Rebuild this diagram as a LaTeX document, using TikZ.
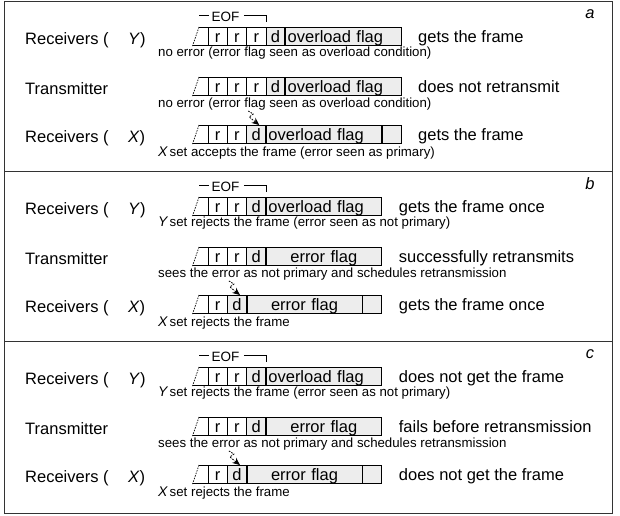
\documentclass[tikz,border=0pt]{standalone}
\usepackage{fontspec}
\setmainfont{Liberation Sans}
\usetikzlibrary{positioning,calc,arrows.meta}

\definecolor{flaggray}{gray}{0.93}
\newcommand{\bigtxt}{\fontsize{16.5}{19}\selectfont}
\newcommand{\smalltxt}{\fontsize{13.25}{15}\selectfont}
\newcommand{\setltr}[1]{{\fontsize{14}{14}\selectfont\itshape #1}\,}

\tikzset{
	wire/.style={line width=0.8pt},
	bitbox/.style={draw, line width=0.8pt, minimum width=19.3pt, minimum height=18pt, inner sep=0pt, outer sep=0pt, text height=13pt, text depth=1pt, font=\bigtxt},
	rbit/.style={bitbox, fill=white},
	dbit/.style={bitbox, fill=flaggray},
	endbox/.style={bitbox, fill=flaggray},
	flagbox/.style={draw, line width=0.8pt, fill=flaggray, minimum height=18pt, inner xsep=2.5pt, inner ysep=0pt, outer sep=0pt, text width=110.8pt, text height=13pt, text depth=1pt, font=\bigtxt},
	ovlflag/.style={flagbox, align=left},
	errflag/.style={flagbox, align=center},
	slant/.style={line width=0.7pt, dash pattern=on 1.5pt off 1.2pt},
	hit/.style={line width=0.8pt, dash pattern=on 1.6pt off 1.2pt, -{Stealth[length=7.5pt,width=6.5pt]}},
	bar/.style={line width=1.8pt},
	frame/.style={line width=1pt, black!80},
	lbl/.style={font=\bigtxt, inner sep=0pt, anchor=base west},
	note/.style={font=\smalltxt, inner sep=0pt, anchor=base west},
	tag/.style={font=\bigtxt\itshape, inner sep=0pt},
	eoftxt/.style={font=\fontsize{13.5}{15}\selectfont, inner sep=0pt}
}

\begin{document}
\begin{tikzpicture}[x=1pt,y=-1pt]
		\useasboundingbox (0,0) rectangle (620,515);
		
		%frame
		\draw[frame] (4,1) rectangle (612,513);
		\draw[frame] (4,171) -- (612,171);
		\draw[frame] (4,341) -- (612,341);
		
		%%%%%% panel a
		\node[tag] (alet) at (590,14) {a};
		
		%receivers Y
		\node[rbit] (ay1) at (217.65,36) {r};
		\node[rbit, right = 0pt of ay1] (ay2) {r};
		\node[rbit, right = 0pt of ay2] (ay3) {r};
		\node[dbit, right = 0pt of ay3] (ay4) {d};
		\node[ovlflag, right = 0pt of ay4] (ayf) {overload flag};
		\draw[bar] (ayf.north west) -- (ayf.south west);
		\draw[wire] ($(ay1.north west)+(-9,0)$) -- (ay1.north west) (ay1.south west) -- ++(-15,0);
		\draw[slant] ($(ay1.north west)+(-9,0)$) -- ++(-6.5,19);
		\node[lbl] (ayl) at (25,44) {Receivers (};
		\node[lbl] (ayv) at (128,44) {\textit{Y})};
		\node[lbl, base right = 17pt of ayf] (ayt) {gets the frame};
		\node[note] (ayn) at (158,56.5) {no error (error flag seen as overload condition)};
		
		%eof
		\node[eoftxt] (aeof) at (225.5,17) {EOF};
		\coordinate (aeofa) at (199,15.5);
		\coordinate (aeofb) at (ay3.north east |- aeofa);
		\draw[wire] (aeofa) -- ++(10,0);
		\draw[wire] ($(aeofb)+(-22,0)$) -- (aeofb) -- ++(0,6);
		
		%transmitter
		\node[rbit] (at1) at (217.65,86) {r};
		\node[rbit, right = 0pt of at1] (at2) {r};
		\node[rbit, right = 0pt of at2] (at3) {r};
		\node[dbit, right = 0pt of at3] (at4) {d};
		\node[ovlflag, right = 0pt of at4] (atf) {overload flag};
		\draw[bar] (atf.north west) -- (atf.south west);
		\draw[wire] ($(at1.north west)+(-9,0)$) -- (at1.north west) (at1.south west) -- ++(-15,0);
		\draw[slant] ($(at1.north west)+(-9,0)$) -- ++(-6.5,19);
		\node[lbl] (atl) at (25,94) {Transmitter};
		\node[lbl, base right = 17pt of atf] (att) {does not retransmit};
		\node[note] (atn) at (158,107) {no error (error flag seen as overload condition)};
		
		%receivers X
		\node[rbit] (ax1) at (217.65,134) {r};
		\node[rbit, right = 0pt of ax1] (ax2) {r};
		\node[dbit, right = 0pt of ax2] (ax3) {d};
		\node[ovlflag, right = 0pt of ax3] (axf) {overload flag};
		\node[endbox, right = 0pt of axf] (axe) {};
		\draw[bar] (axf.north west) -- (axf.south west);
		\draw[bar] (axf.north east) -- (axf.south east);
		\draw[wire] ($(ax1.north west)+(-9,0)$) -- (ax1.north west) (ax1.south west) -- ++(-15,0);
		\draw[slant] ($(ax1.north west)+(-9,0)$) -- ++(-6.5,19);
		\node[lbl] (axl) at (25,142) {Receivers (};
		\node[lbl] (axv) at (128,142) {\textit{X})};
		\node[lbl, base right = 17pt of axe] (axt) {gets the frame};
		\node[note] (axn) at (158,156) {\setltr{X}set accepts the frame (error seen as primary)};
		\draw[hit] ($(ax3.north)+(-8,-14)$) -- ++(5,3) -- ++(-4,3) -- ($(ax3.north)+(3,0)$);
		
		%%%%%% panel b
		\node[tag] (blet) at (590,184) {b};
		
		%receivers Y
		\node[rbit] (by1) at (217.65,206) {r};
		\node[rbit, right = 0pt of by1] (by2) {r};
		\node[dbit, right = 0pt of by2] (by3) {d};
		\node[ovlflag, right = 0pt of by3] (byf) {overload flag};
		\draw[bar] (byf.north west) -- (byf.south west);
		\draw[wire] ($(by1.north west)+(-9,0)$) -- (by1.north west) (by1.south west) -- ++(-15,0);
		\draw[slant] ($(by1.north west)+(-9,0)$) -- ++(-6.5,19);
		\node[lbl] (byl) at (25,214) {Receivers (};
		\node[lbl] (byv) at (128,214) {\textit{Y})};
		\node[lbl, base right = 17pt of byf] (byt) {gets the frame once};
		\node[note] (byn) at (158,226.5) {\setltr{Y}set rejects the frame (error seen as not primary)};
		
		%eof
		\node[eoftxt] (beof) at (225.5,187) {EOF};
		\coordinate (beofa) at (199,185.5);
		\coordinate (beofb) at (by3.north east |- beofa);
		\draw[wire] (beofa) -- ++(10,0);
		\draw[wire] ($(beofb)+(-22,0)$) -- (beofb) -- ++(0,6);
		
		%transmitter
		\node[rbit] (bt1) at (217.65,256) {r};
		\node[rbit, right = 0pt of bt1] (bt2) {r};
		\node[dbit, right = 0pt of bt2] (bt3) {d};
		\node[errflag, right = 0pt of bt3] (btf) {error flag};
		\draw[bar] (btf.north west) -- (btf.south west);
		\draw[wire] ($(bt1.north west)+(-9,0)$) -- (bt1.north west) (bt1.south west) -- ++(-15,0);
		\draw[slant] ($(bt1.north west)+(-9,0)$) -- ++(-6.5,19);
		\node[lbl] (btl) at (25,264) {Transmitter};
		\node[lbl, base right = 17pt of btf] (btt) {successfully retransmits};
		\node[note] (btn) at (158,277) {sees the error as not primary and schedules retransmission};
		
		%receivers X
		\node[rbit] (bx1) at (217.65,304) {r};
		\node[dbit, right = 0pt of bx1] (bx2) {d};
		\node[errflag, right = 0pt of bx2] (bxf) {error flag};
		\node[endbox, right = 0pt of bxf] (bxe) {};
		\draw[bar] (bxf.north west) -- (bxf.south west);
		\draw[bar] (bxf.north east) -- (bxf.south east);
		\draw[wire] ($(bx1.north west)+(-9,0)$) -- (bx1.north west) (bx1.south west) -- ++(-15,0);
		\draw[slant] ($(bx1.north west)+(-9,0)$) -- ++(-6.5,19);
		\node[lbl] (bxl) at (25,312) {Receivers (};
		\node[lbl] (bxv) at (128,312) {\textit{X})};
		\node[lbl, base right = 17pt of bxe] (bxt) {gets the frame once};
		\node[note] (bxn) at (158,326) {\setltr{X}set rejects the frame};
		\draw[hit] ($(bx2.north)+(-8,-14)$) -- ++(5,3) -- ++(-4,3) -- ($(bx2.north)+(3,0)$);
		
		%%%%%% panel c
		\node[tag] (clet) at (590,354) {c};
		
		%receivers Y
		\node[rbit] (cy1) at (217.65,376) {r};
		\node[rbit, right = 0pt of cy1] (cy2) {r};
		\node[dbit, right = 0pt of cy2] (cy3) {d};
		\node[ovlflag, right = 0pt of cy3] (cyf) {overload flag};
		\draw[bar] (cyf.north west) -- (cyf.south west);
		\draw[wire] ($(cy1.north west)+(-9,0)$) -- (cy1.north west) (cy1.south west) -- ++(-15,0);
		\draw[slant] ($(cy1.north west)+(-9,0)$) -- ++(-6.5,19);
		\node[lbl] (cyl) at (25,384) {Receivers (};
		\node[lbl] (cyv) at (128,384) {\textit{Y})};
		\node[lbl, base right = 17pt of cyf] (cyt) {does not get the frame};
		\node[note] (cyn) at (158,396.5) {\setltr{Y}set rejects the frame (error seen as not primary)};
		
		%eof
		\node[eoftxt] (ceof) at (225.5,357) {EOF};
		\coordinate (ceofa) at (199,355.5);
		\coordinate (ceofb) at (cy3.north east |- ceofa);
		\draw[wire] (ceofa) -- ++(10,0);
		\draw[wire] ($(ceofb)+(-22,0)$) -- (ceofb) -- ++(0,6);
		
		%transmitter
		\node[rbit] (ct1) at (217.65,426) {r};
		\node[rbit, right = 0pt of ct1] (ct2) {r};
		\node[dbit, right = 0pt of ct2] (ct3) {d};
		\node[errflag, right = 0pt of ct3] (ctf) {error flag};
		\draw[bar] (ctf.north west) -- (ctf.south west);
		\draw[wire] ($(ct1.north west)+(-9,0)$) -- (ct1.north west) (ct1.south west) -- ++(-15,0);
		\draw[slant] ($(ct1.north west)+(-9,0)$) -- ++(-6.5,19);
		\node[lbl] (ctl) at (25,434) {Transmitter};
		\node[lbl, base right = 17pt of ctf] (ctt) {fails before retransmission};
		\node[note] (ctn) at (158,447) {sees the error as not primary and schedules retransmission};
		
		%receivers X
		\node[rbit] (cx1) at (217.65,474) {r};
		\node[dbit, right = 0pt of cx1] (cx2) {d};
		\node[errflag, right = 0pt of cx2] (cxf) {error flag};
		\node[endbox, right = 0pt of cxf] (cxe) {};
		\draw[bar] (cxf.north west) -- (cxf.south west);
		\draw[bar] (cxf.north east) -- (cxf.south east);
		\draw[wire] ($(cx1.north west)+(-9,0)$) -- (cx1.north west) (cx1.south west) -- ++(-15,0);
		\draw[slant] ($(cx1.north west)+(-9,0)$) -- ++(-6.5,19);
		\node[lbl] (cxl) at (25,482) {Receivers (};
		\node[lbl] (cxv) at (128,482) {\textit{X})};
		\node[lbl, base right = 17pt of cxe] (cxt) {does not get the frame};
		\node[note] (cxn) at (158,496) {\setltr{X}set rejects the frame};
		\draw[hit] ($(cx2.north)+(-8,-14)$) -- ++(5,3) -- ++(-4,3) -- ($(cx2.north)+(3,0)$);
\end{tikzpicture}
\end{document}
